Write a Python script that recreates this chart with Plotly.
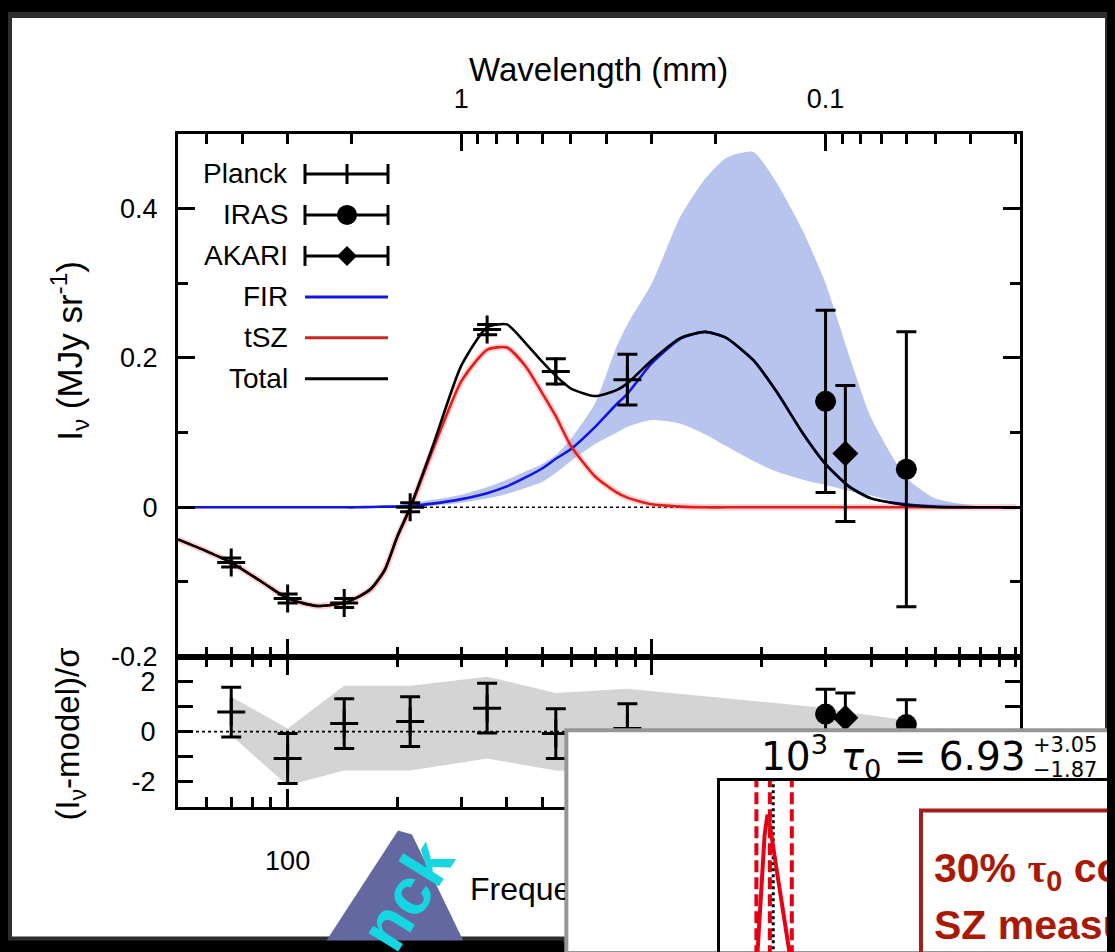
import math
import plotly.graph_objects as go

# The page body keeps its default 8px margin, so the figure is drawn 8px right/down.
# A small vertical stretch compensates the slight vertical compression seen in the photo.
OFF = 8
FW, FH = 1115, 960
VS = 0.985
def px(x): return (x - OFF) / FW
def py(y):
    yy = 70 + (y - 70) / VS
    return 1 - (yy - OFF) / FH

FONT = "Liberation Sans, Arial, Helvetica, sans-serif"

# ---------------- data ----------------
freq = [50, 60, 70, 85, 100, 120, 143, 155, 170, 185, 200, 217, 250, 300, 353, 400, 450, 500,
        545, 600, 700, 800, 857, 1000, 1200, 1400, 1600, 1900, 2200, 2600, 3000, 3500, 4000,
        5000, 6000, 8000, 10000]
total = [-0.043, -0.059, -0.074, -0.100, -0.122, -0.132, -0.128, -0.121, -0.108, -0.083,
         -0.039, 0.0, 0.081, 0.19, 0.241, 0.245, 0.22, 0.195, 0.176, 0.159, 0.149, 0.157, 0.166,
         0.197, 0.227, 0.235, 0.227, 0.197, 0.155, 0.099, 0.058, 0.027, 0.012, 0.003, 0.0005,
         0.0, 0.0]
tsz = [-0.043, -0.059, -0.074, -0.100, -0.122, -0.132, -0.128, -0.121, -0.109, -0.084, -0.040,
       -0.002, 0.076, 0.169, 0.211, 0.214, 0.189, 0.153, 0.122, 0.082, 0.041, 0.020, 0.013,
       0.004, 0.001, 0.0, 0.0, 0.0, 0.0, 0.0, 0.0, 0.0, 0.0, 0.0, 0.0, 0.0, 0.0]
fir = [0.0, 0.0, 0.0, 0.0, 0.0, 0.0, 0.0, 0.0, 0.0005, 0.001, 0.001, 0.002, 0.005, 0.011, 0.019,
       0.028, 0.04, 0.052, 0.065, 0.078, 0.108, 0.138, 0.152, 0.193, 0.226, 0.235, 0.227, 0.197,
       0.155, 0.099, 0.058, 0.027, 0.012, 0.004, 0.001, 0.0, 0.0]
fir_hi = [0.0, 0.0, 0.0, 0.0, 0.0, 0.0, 0.0, 0.0, 0.001, 0.002, 0.003, 0.005, 0.01, 0.017,
          0.027, 0.037, 0.048, 0.058, 0.07, 0.092, 0.14, 0.215, 0.245, 0.30, 0.39, 0.44, 0.468,
          0.476, 0.435, 0.37, 0.30, 0.20, 0.12, 0.04, 0.012, 0.001, 0.0]
fir_lo = [0.0, 0.0, 0.0, 0.0, 0.0, 0.0, 0.0, 0.0, 0.0, 0.0, 0.0, 0.001, 0.002, 0.006, 0.012,
          0.018, 0.026, 0.034, 0.046, 0.062, 0.085, 0.1, 0.108, 0.117, 0.112, 0.098, 0.082,
          0.062, 0.048, 0.037, 0.03, 0.022, 0.016, 0.004, 0.001, 0.0, 0.0]

planck_f = [70, 100, 143, 217, 353, 545, 857]
planck_y = [-0.074, -0.122, -0.128, 0.0, 0.238, 0.182, 0.171]
planck_err = [0.006, 0.006, 0.006, 0.006, 0.007, 0.017, 0.034]
iras_f = [3000, 5000]
iras_y = [0.142, 0.051]
iras_err = [0.122, 0.184]
akari_f = [3400]
akari_y = [0.072]
akari_err = [0.091]

planck_res = [0.78, -1.08, 0.32, 0.40, 0.94, -0.08, 0.12]
iras_res = [0.70, 0.28]
akari_res = [0.55]
res_err = 1.0

band_f = [70, 100, 143, 217, 353, 545, 857, 3000, 3400, 5000]
band_hi = [1.4, 0.12, 1.84, 1.84, 2.2, 1.55, 1.72, 0.95, 0.8, 0.45]
band_lo = [-0.15, -2.16, -1.56, -1.56, -1.08, -1.56, -1.6, -1.6, -1.6, -1.6]

freq_major = [100, 1000]
freq_minor = [60, 70, 80, 90, 200, 300, 400, 500, 600, 700, 800, 900,
              2000, 3000, 4000, 5000, 6000, 7000, 8000, 9000, 10000]
wl_major = [1, 0.1]
wl_minor = [5, 4, 3, 2, 0.9, 0.8, 0.7, 0.6, 0.5, 0.4, 0.3, 0.2,
            0.09, 0.08, 0.07, 0.06, 0.05, 0.04, 0.03]

tau_med, tau_plus, tau_minus = 6.93, 3.05, 1.87
tau_true = 7.4
post_x = [5.0, 5.6, 6.2, 6.6, 7.0, 8.0, 9.0, 10.2]
post_y = [-0.2, 0.38, 0.85, 1.0, 0.9, 0.55, 0.22, -0.2]

legend_labels = ["Planck", "IRAS", "AKARI", "FIR", "tSZ", "Total"]

# ---------------- figure ----------------
fig = go.Figure()
skip = dict(showlegend=False, hoverinfo="skip")
C = 299.792458  # GHz * mm
SM = 0.6
BLUE = "rgb(20,20,225)"
RED = "rgb(228,28,28)"

fig.add_trace(go.Scatter(x=freq, y=fir_lo, xaxis="x2", yaxis="y2", mode="lines",
                         line=dict(width=0, shape="spline", smoothing=SM), **skip))
fig.add_trace(go.Scatter(x=freq, y=fir_hi, xaxis="x2", yaxis="y2", mode="lines", fill="tonexty",
                         fillcolor="rgb(183,196,237)",
                         line=dict(width=0, shape="spline", smoothing=SM), **skip))
fig.add_trace(go.Scatter(x=[freq[0], freq[-1]], y=[0, 0], xaxis="x2", yaxis="y2", mode="lines",
                         line=dict(color="black", width=1.6, dash="dot"), **skip))
fig.add_trace(go.Scatter(x=freq, y=tsz, xaxis="x2", yaxis="y2", mode="lines",
                         line=dict(color="rgba(240,110,110,0.3)", width=6.5, shape="spline", smoothing=SM), **skip))
fig.add_trace(go.Scatter(x=freq, y=fir, xaxis="x2", yaxis="y2", mode="lines",
                         line=dict(color=BLUE, width=2.6, shape="spline", smoothing=SM), **skip))
fig.add_trace(go.Scatter(x=freq, y=tsz, xaxis="x2", yaxis="y2", mode="lines",
                         line=dict(color=RED, width=2.6, shape="spline", smoothing=SM), **skip))
fig.add_trace(go.Scatter(x=freq, y=total, xaxis="x2", yaxis="y2", mode="lines",
                         line=dict(color="black", width=2.6, shape="spline", smoothing=SM), **skip))

def errbar(arr):
    return dict(type="data", array=arr, visible=True, color="black", thickness=3, width=10)

fig.add_trace(go.Scatter(x=planck_f, y=planck_y, xaxis="x2", yaxis="y2", mode="markers",
                         error_y=errbar(planck_err),
                         marker=dict(symbol="cross-thin", size=20, line=dict(color="black", width=3)), **skip))
fig.add_trace(go.Scatter(x=iras_f, y=iras_y, xaxis="x2", yaxis="y2", mode="markers",
                         error_y=errbar(iras_err),
                         marker=dict(symbol="circle", size=21, color="black"), **skip))
fig.add_trace(go.Scatter(x=akari_f, y=akari_y, xaxis="x2", yaxis="y2", mode="markers",
                         error_y=errbar(akari_err),
                         marker=dict(symbol="diamond", size=20, color="black"), **skip))
fig.add_trace(go.Scatter(x=[3.0], y=[0.0], xaxis="x3", yaxis="y2", mode="markers",
                         marker=dict(opacity=0), **skip))

# residual panel
fig.add_trace(go.Scatter(x=band_f, y=band_lo, xaxis="x", yaxis="y", mode="lines",
                         line=dict(width=0), **skip))
fig.add_trace(go.Scatter(x=band_f, y=band_hi, xaxis="x", yaxis="y", mode="lines", fill="tonexty",
                         fillcolor="rgb(212,212,212)", line=dict(width=0), **skip))
fig.add_trace(go.Scatter(x=[freq[0], freq[-1]], y=[0, 0], xaxis="x", yaxis="y", mode="lines",
                         line=dict(color="black", width=1.6, dash="dot"), **skip))
fig.add_trace(go.Scatter(x=planck_f, y=planck_res, xaxis="x", yaxis="y", mode="markers",
                         error_y=errbar([res_err] * len(planck_f)),
                         marker=dict(symbol="cross-thin", size=20, line=dict(color="black", width=3)), **skip))
fig.add_trace(go.Scatter(x=iras_f, y=iras_res, xaxis="x", yaxis="y", mode="markers",
                         error_y=errbar([res_err] * len(iras_f)),
                         marker=dict(symbol="circle", size=21, color="black"), **skip))
fig.add_trace(go.Scatter(x=akari_f, y=akari_res, xaxis="x", yaxis="y", mode="markers",
                         error_y=errbar([res_err] * len(akari_f)),
                         marker=dict(symbol="diamond", size=20, color="black"), **skip))

# inset panel background (drawn after the main subplots)
fig.add_trace(go.Scatter(x=[0, 1, 1, 0, 0], y=[0, 0, 1, 1, 0], xaxis="x5", yaxis="y5", mode="lines",
                         fill="toself", fillcolor="white", line=dict(color="rgb(150,150,150)", width=4), **skip))
for v in [tau_med - tau_minus, tau_med, tau_med + tau_plus]:
    fig.add_trace(go.Scatter(x=[v, v], y=[-0.3, 1.3], xaxis="x6", yaxis="y6", mode="lines",
                             line=dict(color="rgb(230,0,20)", width=4, dash="12px,5px"), **skip))
fig.add_trace(go.Scatter(x=[tau_true, tau_true], y=[-0.3, 1.3], xaxis="x6", yaxis="y6", mode="lines",
                         line=dict(color="black", width=3, dash="dot"), **skip))
fig.add_trace(go.Scatter(x=post_x, y=post_y, xaxis="x6", yaxis="y6", mode="lines",
                         line=dict(color="rgb(230,0,20)", width=4), **skip))

lo, hi = math.log10(50), 4.011
tickfont = dict(family=FONT, size=27, color="black")
common = dict(showgrid=False, zeroline=False, showline=True, linecolor="black", linewidth=3,
              ticks="inside", tickcolor="black", tickwidth=3, tickfont=tickfont)
minor_freq = dict(tickmode="array", tickvals=freq_minor, ticks="inside", ticklen=10,
                  tickwidth=3, tickcolor="black")

# inset posterior y-scale: value 1.0 sits 34px below the frame top, 136px per unit
y6_top = 1.25
y6_bottom = y6_top - (py(782) - 0.0) * FH * VS / 136.0

fig.update_layout(
    width=FW, height=FH, margin=dict(l=0, r=0, t=0, b=0),
    paper_bgcolor="black", plot_bgcolor="rgba(0,0,0,0)", showlegend=False,
    xaxis=dict(type="log", range=[lo, hi], domain=[px(178), px(1020)], anchor="y",
               mirror="ticks", tickmode="array", tickvals=freq_major,
               ticktext=[str(v) for v in freq_major], ticklen=18, ticklabelstandoff=28,
               minor=minor_freq, **common),
    yaxis=dict(range=[-3.0, 3.0], domain=[py(808), py(658)], anchor="x", mirror="ticks",
               tickmode="array", tickvals=[-2, -1, 0, 1, 2], ticktext=["-2", "", "0", "", "2"],
               ticklen=15, ticklabelstandoff=14, **common),
    xaxis2=dict(type="log", range=[lo, hi], domain=[px(178), px(1020)], anchor="y2",
                tickmode="array", tickvals=freq_major, ticktext=["", ""], ticklen=18,
                minor=minor_freq, **common),
    yaxis2=dict(range=[-0.2, 0.5], domain=[py(658), py(135)], anchor="x2", mirror="ticks",
                tickmode="array", tickvals=[-0.2, 0, 0.2, 0.4], ticktext=["-0.2", "0", "0.2", "0.4"],
                ticklen=17, ticklabelstandoff=12,
                minor=dict(tickmode="array", tickvals=[-0.1, 0.1, 0.3], ticks="inside", ticklen=10,
                           tickwidth=3, tickcolor="black"), **common),
    xaxis3=dict(range=[lo, hi], overlaying="x2", side="top", anchor="y2", tickmode="array",
                tickvals=[math.log10(C / w) for w in wl_major], ticktext=["1", "0.1"],
                ticklen=17, ticklabelstandoff=12,
                minor=dict(tickmode="array", tickvals=[math.log10(C / w) for w in wl_minor],
                           ticks="inside", ticklen=10, tickwidth=3, tickcolor="black"), **common),
    xaxis5=dict(range=[-0.006, 1.0], domain=[px(563), 1.0], anchor="y5", visible=False, fixedrange=True),
    yaxis5=dict(range=[0.0, 1.012], domain=[0.0, py(729)], anchor="x5", visible=False, fixedrange=True),
    xaxis6=dict(range=[0, 56], domain=[px(720), 1.0], anchor="y6", side="top", showline=True,
                linecolor="black", linewidth=2.5, showticklabels=False, ticks="", showgrid=False,
                zeroline=False),
    yaxis6=dict(range=[y6_bottom, y6_top], domain=[0.0, py(782)], anchor="x6", showline=True,
                linecolor="black", linewidth=2.5, showticklabels=False, ticks="", showgrid=False,
                zeroline=False),
)

shapes = []
shapes.append(dict(type="rect", xref="paper", yref="paper", x0=px(9), x1=px(1108), y0=py(941), y1=py(16),
                   fillcolor="white", line=dict(color="rgb(45,45,45)", width=6), layer="below"))

rows = [175, 216, 257, 298, 339, 380]
lx0, lx1, lxc = 305, 388, 347
def seg(x0, y0, x1, y1, color="black", width=3):
    shapes.append(dict(type="line", xref="paper", yref="paper", x0=px(x0), y0=py(y0), x1=px(x1), y1=py(y1),
                       line=dict(color=color, width=width), layer="above"))
for i in range(3):
    yy = rows[i]
    seg(lx0, yy, lx1, yy)
    seg(lx0, yy - 10, lx0, yy + 10)
    seg(lx1, yy - 10, lx1, yy + 10)
seg(lxc, rows[0] - 10, lxc, rows[0] + 10)
shapes.append(dict(type="circle", xref="paper", yref="paper", x0=px(lxc - 10), x1=px(lxc + 10),
                   y0=py(rows[1] + 10), y1=py(rows[1] - 10), fillcolor="black", line=dict(width=0),
                   layer="above"))
d = 10
shapes.append(dict(type="path", xref="paper", yref="paper",
                   path=f"M {px(lxc-d)} {py(rows[2])} L {px(lxc)} {py(rows[2]-d)} L {px(lxc+d)} {py(rows[2])} L {px(lxc)} {py(rows[2]+d)} Z",
                   fillcolor="black", line=dict(width=0), layer="above"))
seg(lx0, rows[3], lx1, rows[3], color=BLUE, width=3)
seg(lx0, rows[4], lx1, rows[4], color="rgb(200,40,40)", width=3)
seg(lx0, rows[5], lx1, rows[5], color="black", width=3)

# blue "Planck" banner (partly visible)
bp = [(320, 952), (398, 832), (412, 836), (468, 952)]
shapes.append(dict(type="path", xref="paper", yref="paper",
                   path="M " + " L ".join(f"{px(a)} {py(b)}" for a, b in bp) + " Z",
                   fillcolor="rgb(100,104,160)", line=dict(width=0), layer="above"))
shapes.append(dict(type="rect", xref="paper", yref="paper", x0=0, x1=px(563), y0=0, y1=py(942),
                   fillcolor="black", line=dict(width=0), layer="above"))
shapes.append(dict(type="rect", xref="paper", yref="paper", x0=px(921), x1=px(1140), y0=py(985), y1=py(812),
                   fillcolor="rgba(0,0,0,0)", line=dict(color="rgb(165,30,30)", width=4), layer="above"))
fig.update_layout(shapes=shapes)

ann = []
def text(x, y, s, size=25, xanchor="center", yanchor="middle", color="black", family=FONT, **kw):
    ann.append(dict(x=px(x), y=py(y), xref="paper", yref="paper", text=s, showarrow=False,
                    xanchor=xanchor, yanchor=yanchor, font=dict(family=family, size=size, color=color), **kw))

for lab, yy in zip(legend_labels, rows):
    text(290, yy, lab, size=28, xanchor="right")
text(598, 70, "Wavelength (mm)", size=33)
text(70, 352, "I<sub>ν</sub> (MJy sr<sup>-1</sup>)", size=35, textangle=-90)
text(70, 736, "(I<sub>ν</sub>-model)/σ", size=33, textangle=-90)
text(468, 890, "Frequency (GHz)", size=32, xanchor="left", width=95, align="left")
text(405, 898, "<b>Planck</b>", size=66, color="rgb(20,215,225)", textangle=-58,
     width=118, align="right")
DJ = "DejaVu Sans, sans-serif"
text(1028, 758, "10<sup>3</sup> <i>τ</i><sub>0</sub> = 6.93", size=39, xanchor="right", family=DJ)
text(1031, 746, "+3.05", size=21, xanchor="left", family=DJ)
text(1031, 771, "−1.87", size=21, xanchor="left", family=DJ)
text(932, 872, "<b>30% <span style='font-family:Liberation Serif'>τ</span><sub>0</sub> constraint from</b>",
     size=41, xanchor="left", color="rgb(170,25,5)")
text(932, 927, "<b>SZ measurement</b>", size=41, xanchor="left", color="rgb(170,25,5)")
fig.update_layout(annotations=ann)

page_bg = "document.documentElement.style.background='black';document.body.style.background='black';"
fig.write_html("out.html", post_script=page_bg, config={"displayModeBar": False})
